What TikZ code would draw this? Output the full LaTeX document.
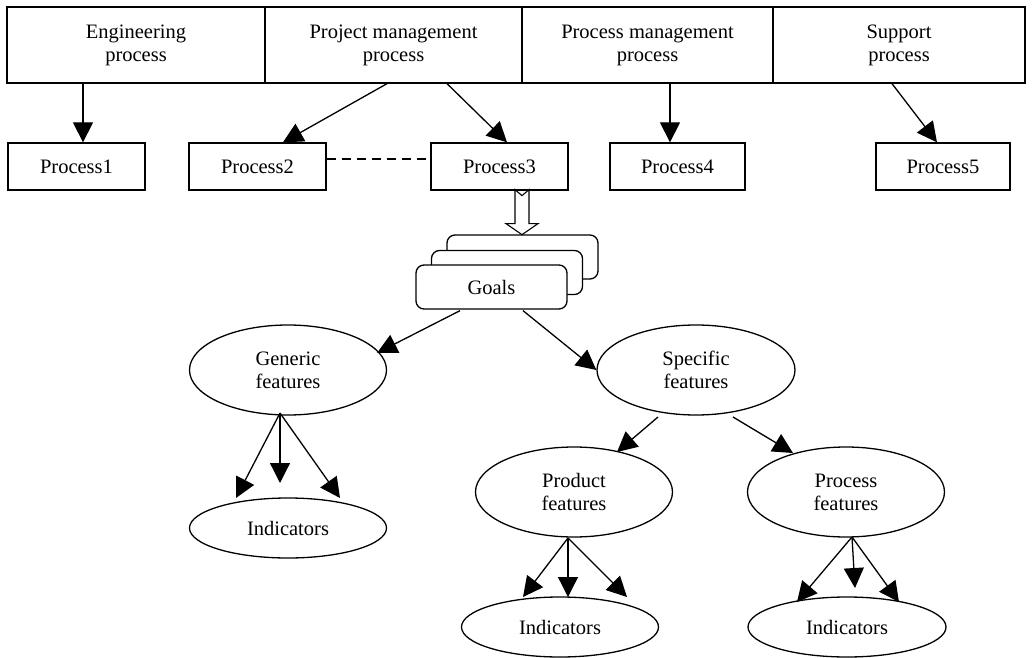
\documentclass[tikz,border=0pt]{standalone}
\usepackage{fontspec}
\setmainfont{Liberation Serif}
\usetikzlibrary{arrows.meta,calc,shapes.geometric}
\begin{document}
\begin{tikzpicture}[x=1pt,y=-1pt,
  every node/.style={font=\fontsize{20.5}{23}\selectfont},
  line width=1.3pt,
  topbox/.style={draw,rectangle,minimum height=76pt,inner sep=0pt,align=center},
  procbox/.style={draw,rectangle,minimum width=137pt,minimum height=47pt,inner sep=0pt},
  goalbox/.style={draw,fill=white,rectangle,rounded corners=8pt,minimum width=151pt,minimum height=44pt,inner sep=0pt},
  ell/.style={draw,ellipse,minimum width=197pt,minimum height=90pt,inner sep=0pt,align=center},
  indell/.style={draw,ellipse,minimum width=197pt,minimum height=60pt,inner sep=0pt},
  arr/.style={-{Triangle[length=20pt,width=20pt]}},
  dline/.style={dash pattern=on 9pt off 6pt}]
\useasboundingbox (0,0) rectangle (1034,658);
% top row
\node[topbox,minimum width=258pt] (eng) at (136,45) {Engineering\\process};
\node[topbox,minimum width=257pt] (pm) at (393.5,45) {Project management\\process};
\node[topbox,minimum width=251pt] (prm) at (647.5,45) {Process management\\process};
\node[topbox,minimum width=252pt] (sup) at (899,45) {Support\\process};
% process row
\node[procbox] (p1) at (76.5,166.5) {Process1};
\node[procbox] (p2) at (257.5,166.5) {Process2};
\node[procbox] (p3) at (499.5,166.5) {Process3};
\node[procbox,minimum width=135pt] (p4) at (677.5,166.5) {Process4};
\node[procbox,minimum width=134pt] (p5) at (943,166.5) {Process5};
% arrows top -> process
\draw[arr] ($(eng.south)+(-53,0)$) -- ($(p1.north)+(6.5,0)$);
\draw[arr] ($(pm.south)+(-6.5,0)$) -- ($(p2.north)+(25.5,0)$);
\draw[arr] ($(pm.south)+(53.5,0)$) -- ($(p3.north)+(7.5,0)$);
\draw[arr] ($(prm.south)+(22.5,0)$) -- ($(p4.north)+(-7.5,0)$);
\draw[arr] ($(sup.south)+(-7,0)$) -- ($(p5.north)+(-6,0)$);
% dashed link
\draw[dline] ($(p2.east)+(0,-7.5)$) -- ($(p3.west)+(0,-7.5)$);
% goals stack
\node[goalbox] (goalsb) at (522.5,257) {};
\node[goalbox] (goalsm) at (507,272.5) {};
\node[goalbox] (goals) at (491.5,287) {Goals};
% hollow arrow
\coordinate (ha) at ($(p3.south)+(22.5,-1)$);
\draw[fill=white,line width=1.1pt] (ha) ++(-7,0) -- ++(7,6) -- ++(7,-6) -- ++(0,34) -- ++(9,0) -- ++(-16,11) -- ++(-16,-11) -- ++(9,0) -- cycle;
% features
\node[ell] (gen) at (288,370) {Generic\\features};
\node[ell,minimum width=198pt] (spec) at (696,370) {Specific\\features};
\node[ell] (prod) at (574,492) {Product\\features};
\node[ell] (procf) at (846,492) {Process\\features};
\node[indell] (indl) at (288,528) {Indicators};
\node[indell] (indm) at (560,627) {Indicators};
\node[indell,minimum width=198pt] (indr) at (847,627) {Indicators};
% goals -> features
\draw[arr] ($(goals.south)+(-31.5,1)$) -- ($(gen)+(89,-17)$);
\draw[arr] ($(goals.south)+(31.5,1)$) -- (spec.west);
% specific -> product/process
\draw[arr] ($(spec)+(-38,47)$) -- ($(prod)+(43,-40)$);
\draw[arr] ($(spec)+(37,47)$) -- ($(procf)+(-53,-39)$);
% generic -> indicators
\draw[arr] ($(gen)+(-8,43)$) -- ($(indl)+(-52,-30)$);
\draw[arr] ($(gen)+(-8,43)$) -- ($(indl)+(-8,-45)$);
\draw[arr] ($(gen)+(-8,43)$) -- ($(indl)+(52,-30)$);
% product -> indicators
\draw[arr] ($(prod)+(-6,46)$) -- ($(indm)+(-37,-30)$);
\draw[arr] ($(prod)+(-6,46)$) -- ($(indm)+(8,-30)$);
\draw[arr] ($(prod)+(-6,46)$) -- ($(indm)+(67,-30)$);
% process features -> indicators
\draw[arr] ($(procf)+(6,45)$) -- ($(indr)+(-50,-25)$);
\draw[arr] ($(procf)+(6,45)$) -- ($(indr)+(8,-39)$);
\draw[arr] ($(procf)+(6,45)$) -- ($(indr)+(52,-25)$);
\end{tikzpicture}
\end{document}
